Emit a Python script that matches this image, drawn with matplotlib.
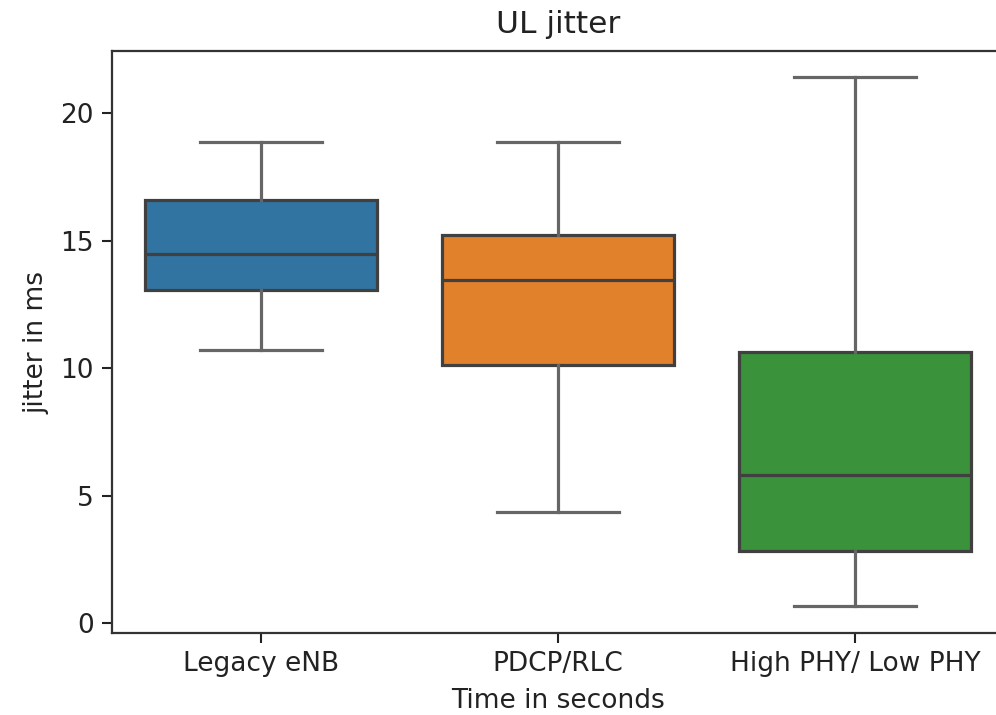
import matplotlib
matplotlib.use("Agg")
import matplotlib.pyplot as plt

categories = ["Legacy eNB", "PDCP/RLC", "High PHY/ Low PHY"]
whisker_low = [10.72, 4.35, 0.69]
q1 = [13.05, 10.13, 2.82]
median = [14.48, 13.45, 5.82]
q3 = [16.58, 15.22, 10.64]
whisker_high = [18.88, 18.88, 21.41]
colors = ["#3274a1", "#e1812c", "#3a923a"]

plt.rcParams['font.family'] = ['DejaVu Sans']

fig = plt.figure(figsize=(9.96, 7.15), dpi=100)
ax = fig.add_axes([112/996, 82/715, (1004-112)/996, (633.3-51.7)/715])

stats = []
for i, c in enumerate(categories):
    stats.append(dict(label=c, whislo=whisker_low[i], q1=q1[i], med=median[i],
                      q3=q3[i], whishi=whisker_high[i], fliers=[]))

bp = ax.bxp(stats, positions=range(len(categories)), widths=0.78,
            patch_artist=True, showfliers=False,
            boxprops=dict(edgecolor="#404040", linewidth=2.3),
            medianprops=dict(color="#404040", linewidth=2.3),
            whiskerprops=dict(color="#666666", linewidth=2.3),
            capprops=dict(color="#666666", linewidth=2.3),
            capwidths=0.41)
for patch, col in zip(bp['boxes'], colors):
    patch.set_facecolor(col)

ax.set_xlim(-0.5, 2.5)
lo = min(whisker_low); hi = max(whisker_high)
pad = (hi - lo) * 0.05
ax.set_ylim(lo - pad - 0.04, hi + pad - 0.02)
ax.set_yticks([0, 5, 10, 15, 20])
ax.set_xticks(range(len(categories)))
ax.set_xticklabels(categories)

for s in ax.spines.values():
    s.set_linewidth(1.6)
    s.set_color("#333333")
ax.spines['right'].set_visible(False)
ax.tick_params(axis='both', labelsize=19, length=7, width=1.5, pad=6, colors="#222222")

ax.set_xlabel("Time in seconds", fontsize=19, labelpad=8, color="#222222")
ax.set_ylabel("jitter in ms", fontsize=19, labelpad=8, color="#222222")
ax.set_title("UL jitter", fontsize=22.5, pad=13, color="#222222")

fig.savefig("out.png", dpi=100)
